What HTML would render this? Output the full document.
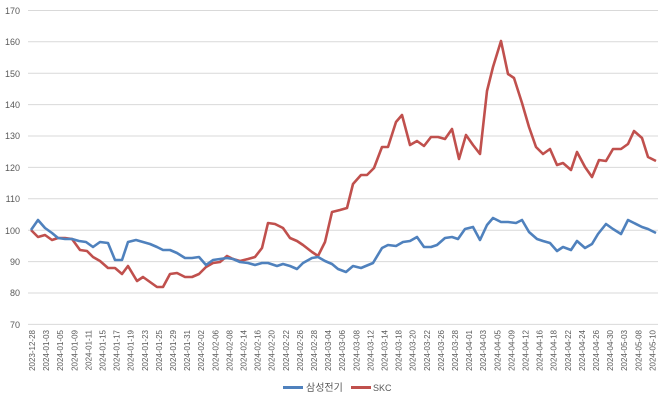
<!DOCTYPE html>
<html><head><meta charset="utf-8"><style>
body{margin:0;background:#fff}
svg{display:block;font-family:"Liberation Sans","Noto Sans CJK KR",sans-serif}
</style></head><body>
<svg width="670" height="402" viewBox="0 0 670 402">
<g stroke="#d9d9d9" stroke-width="1">
<line x1="28" x2="658" y1="10.5" y2="10.5"/><line x1="28" x2="658" y1="41.8" y2="41.8"/><line x1="28" x2="658" y1="73.2" y2="73.2"/><line x1="28" x2="658" y1="104.6" y2="104.6"/><line x1="28" x2="658" y1="136" y2="136"/><line x1="28" x2="658" y1="167.4" y2="167.4"/><line x1="28" x2="658" y1="198.8" y2="198.8"/><line x1="28" x2="658" y1="230.2" y2="230.2"/><line x1="28" x2="658" y1="261.6" y2="261.6"/><line x1="28" x2="658" y1="293" y2="293"/><line x1="28" x2="658" y1="324.4" y2="324.4"/>
</g>
<g font-size="9" fill="#595959" text-anchor="end">
<text x="20" y="14">170</text><text x="20" y="45">160</text><text x="20" y="77">150</text><text x="20" y="108">140</text><text x="20" y="139">130</text><text x="20" y="171">120</text><text x="20" y="202">110</text><text x="20" y="234">100</text><text x="20" y="265">90</text><text x="20" y="296">80</text><text x="20" y="328">70</text>
</g>
<g font-size="8" fill="#595959" text-anchor="end" id="xl"></g>
<polyline fill="none" stroke="#c0504d" stroke-width="2.6" stroke-linejoin="round" points="31,230 38,237 45,235 52,240 58,238 65,238 72,239 80,250 87,251 93,257 100,261 108,268 115,268 122,274 128,266 137,281 143,277 150,282 157,287 163,287 170,274 177,273 185,277 192,277 199,274 206,267 213,263 220,262 227,256 233,259 240,261 248,259 255,257 262,248 268,223 275,224 283,228 290,238 297,241 303,245 312,252 318,256 325,242 332,212 340,210 347,208 353,184 361,175 367,175 374,168 382,147 388,147 396,122 402,115 410,145 417,141 424,146 431,137 438,137 445,139 452,129 459,159 466,135 473,145 480,154 487,91 493,67 501,41 508,74 514,78 522,103 529,127 536,147 543,154 550,149 557,165 563,163 571,170 577,152 585,167 592,177 599,160 606,161 613,149 621,149 628,144 634,131 642,138 648,157 656,161"/>
<polyline fill="none" stroke="#4f81bd" stroke-width="2.6" stroke-linejoin="round" points="31,230 38,220 45,228 52,233 58,238 65,239 72,239 79,241 86,242 93,247 100,242 108,243 115,260 122,260 128,242 136,240 143,242 150,244 157,247 163,250 170,250 177,253 185,258 192,258 199,257 206,265 213,260 220,259 227,258 233,259 240,262 248,263 255,265 262,263 268,263 277,266 283,264 290,266 297,269 303,263 312,258 318,257 325,261 332,264 338,269 346,272 353,266 361,268 373,263 382,248 388,245 396,246 403,242 410,241 417,237 424,247 431,247 437,245 445,238 452,237 458,239 465,229 473,227 480,240 487,225 493,218 501,222 508,222 516,223 522,220 529,232 537,239 543,241 550,243 557,251 563,247 571,250 577,241 585,248 592,244 598,234 606,224 613,229 621,234 628,220 634,223 642,227 648,229 656,233"/>
<line x1="283" x2="303" y1="387.5" y2="387.5" stroke="#4f81bd" stroke-width="3"/>
<text x="306" y="391" font-size="10" fill="#595959">삼성전기</text>
<line x1="351" x2="371" y1="387.5" y2="387.5" stroke="#c0504d" stroke-width="3"/>
<text x="373" y="391" font-size="9" fill="#595959">SKC</text>
</svg>
<script>
var L="2023-12-28 2024-01-03 2024-01-05 2024-01-09 2024-01-11 2024-01-15 2024-01-17 2024-01-19 2024-01-23 2024-01-25 2024-01-29 2024-01-31 2024-02-02 2024-02-06 2024-02-08 2024-02-14 2024-02-16 2024-02-20 2024-02-22 2024-02-26 2024-02-28 2024-03-04 2024-03-06 2024-03-08 2024-03-12 2024-03-14 2024-03-18 2024-03-20 2024-03-22 2024-03-26 2024-03-28 2024-04-01 2024-04-03 2024-04-05 2024-04-09 2024-04-12 2024-04-16 2024-04-18 2024-04-22 2024-04-24 2024-04-26 2024-04-30 2024-05-03 2024-05-08 2024-05-10".split(" ");
var g=document.getElementById("xl"),ns="http://www.w3.org/2000/svg";
L.forEach(function(s,i){var x=32+i*14.1+3,t=document.createElementNS(ns,"text");t.setAttribute("transform","translate("+x+",330) rotate(-90)");t.textContent=s;g.appendChild(t);});
</script>
</body></html>
